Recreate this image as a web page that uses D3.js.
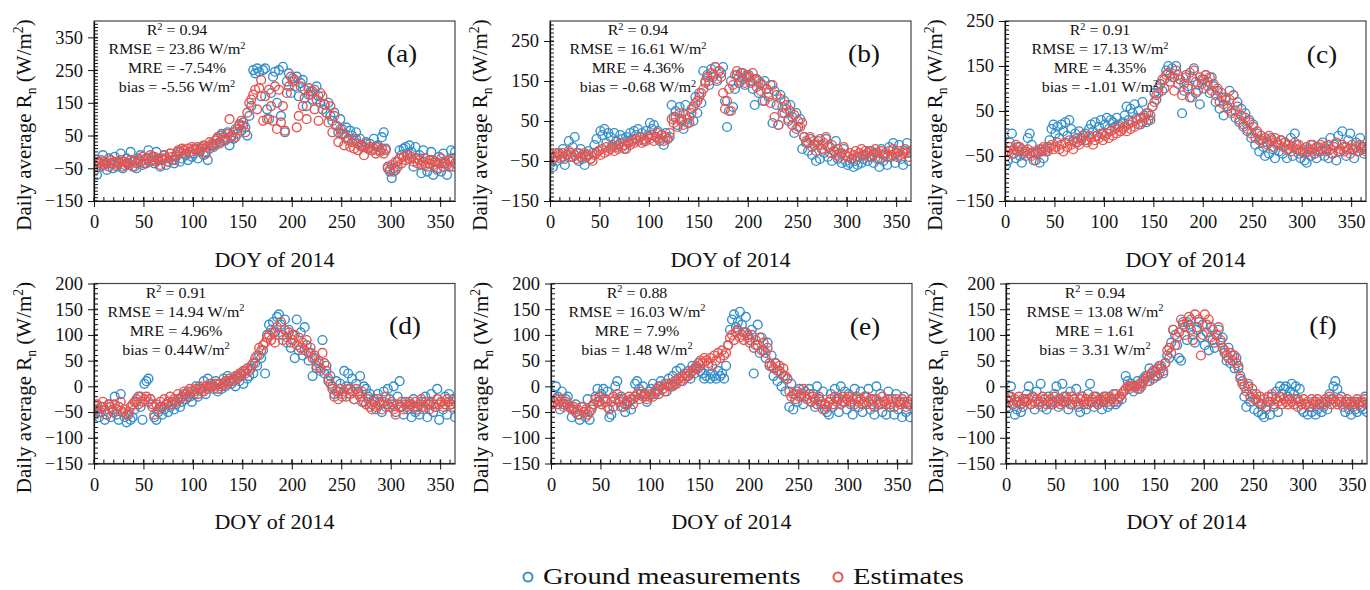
<!DOCTYPE html>
<html>
<head>
<meta charset="utf-8">
<script src="https://cdn.jsdelivr.net/npm/d3@7"></script>
<style>
body { margin: 0; background: #fff; }
svg text { font-family: "Liberation Serif", "Times New Roman", serif; fill: #111; }
</style>
</head>
<body>
<svg id="chart" width="1370" height="590"></svg>
<script>
// day of year, every second day
var doy = d3.range(1, 366, 2);

var groundA = [
-55,-70,-30,-45,-10,-40,-55,-20,-35,-50,
-15,-45,-30,-5,-50,-40,-20,-35,0,-45,
-30,-50,-25,-10,-40,-35,-20,5,-30,-15,
-35,0,-25,-45,-20,-10,-40,-30,-5,-25,
-35,-15,0,-30,-20,5,-10,-25,0,-15,
-5,10,-20,5,15,-10,0,-25,10,20,
15,25,40,30,55,45,35,60,20,50,
40,70,55,80,65,90,75,50,110,140,
250,240,255,245,170,250,255,130,100,180,
230,245,150,250,110,260,60,215,240,180,
225,200,230,170,210,220,190,140,175,185,
160,190,200,170,150,130,145,120,150,110,
95,120,80,60,100,70,55,75,40,65,
50,35,60,25,40,20,15,30,10,25,
5,40,15,20,5,45,60,10,-50,-60,
-80,-50,-55,-30,5,-10,10,15,-5,20,
0,-45,15,-20,-10,-65,5,-40,-60,-25,
0,-70,-30,-55,-15,-60,-5,-35,-70,-45,
5,-20,0];
var estA = [
-30,-45,-35,-25,-40,-30,-35,-45,-25,-35,
-30,-40,-35,-25,-45,-30,-35,-40,-25,-30,
-45,-35,-20,-30,-15,-25,-35,-20,-10,-25,
-15,-30,-20,-40,-25,-10,-20,-30,-5,-15,
-25,-10,5,0,10,5,-5,10,0,15,
10,5,15,0,10,20,-5,15,30,25,
20,35,45,25,50,35,40,55,100,45,
60,45,70,85,95,80,60,120,150,160,
175,190,130,195,220,95,170,100,190,140,
95,200,70,190,90,140,65,180,200,230,
215,220,75,110,200,140,165,100,195,175,
185,130,160,95,180,170,145,120,90,140,
60,110,80,30,70,55,20,45,35,15,
30,10,40,5,20,15,-10,25,10,15,
5,10,-5,15,0,10,-5,5,-45,-55,
-40,-60,-30,-45,-20,-35,-15,-25,-10,-20,
-15,-30,-20,-35,-25,-40,-30,-20,-45,-35,
-25,-40,-30,-50,-35,-20,-45,-30,-40,-25,
-30,-45,-35];

var groundB = [
-55,-65,-40,-50,-30,-45,-20,-60,-35,0,
-40,-15,10,-30,-50,-20,-45,-60,-35,-25,
-45,-30,-10,5,-25,25,15,30,-5,20,
10,-15,20,0,-10,15,5,-20,10,0,
20,5,25,15,30,10,20,0,25,15,
45,30,40,10,25,0,15,-10,20,5,
10,90,60,75,40,85,55,30,90,45,
60,80,50,110,70,120,95,175,150,165,
140,180,160,185,150,175,170,185,100,35,
75,150,85,130,165,145,170,155,140,160,
165,150,130,90,155,120,145,100,150,130,
110,140,45,125,90,40,115,70,100,80,
50,90,60,20,70,35,55,-20,10,-5,
-25,5,-35,-10,-50,0,-45,-20,-30,5,
-40,-15,-50,-25,0,-45,-30,-55,-20,-50,
-60,-55,-45,-65,-50,-60,-40,-55,-45,-35,
-50,-25,-40,-55,-30,-45,-65,-20,-50,-35,
-60,-15,-40,-5,-55,-30,-10,-45,-60,-25,
-5,-50,-30];
var estB = [
-35,-45,-40,-30,-35,-40,-30,-45,-35,-25,
-30,-40,-35,-45,-30,-40,-35,-30,-40,-35,
-45,-50,-35,-30,-25,-35,-20,-30,-15,-25,
-20,-10,-25,-15,-20,-5,-15,-10,-20,-5,
-10,0,-5,5,0,10,-5,5,0,10,
5,15,0,10,20,5,15,0,10,5,
20,55,45,60,35,70,50,40,65,55,
45,70,85,95,100,110,120,130,145,160,
150,170,165,185,155,175,160,120,80,100,
130,75,140,165,175,160,150,170,145,165,
160,145,170,155,135,150,125,140,100,130,
120,95,140,60,115,40,105,85,70,90,
55,75,40,65,30,50,35,45,10,0,
-5,10,-15,0,-25,-10,5,-20,-5,10,
-15,-30,-10,-25,-35,-20,-40,-30,-15,-35,
-40,-30,-45,-35,-25,-40,-30,-20,-35,-25,
-30,-40,-25,-35,-20,-30,-45,-25,-35,-30,
-40,-25,-35,-20,-30,-40,-25,-35,-30,-20,
-30,-40,-25];

var groundC = [
-70,-60,-20,0,-45,-55,-30,-50,-65,-40,
-50,-10,0,-25,-60,-45,-40,-65,-35,-55,
-40,-30,-15,10,20,0,15,-10,20,5,
25,-5,30,10,-15,0,-20,5,-10,-5,
0,-15,10,20,5,25,-5,15,30,0,
20,35,10,30,25,15,35,20,5,25,
40,60,30,55,45,65,35,50,20,70,
40,25,45,30,60,90,75,100,110,95,
120,140,150,130,145,125,150,110,120,45,
95,130,105,80,125,145,90,110,65,120,
100,130,115,90,125,105,70,95,55,80,
40,75,60,95,50,85,35,70,25,55,
15,45,5,30,-10,20,-25,0,-40,-15,
-30,-50,-20,-45,-10,-35,-55,-25,-40,-15,
-45,-20,-55,-35,-10,-50,0,-25,-45,-55,
-40,-60,-65,-35,-50,-25,-45,-55,-30,-40,
-20,-50,-35,-55,-10,-45,-25,-60,-5,-40,
5,-30,-50,-15,0,-35,-55,-20,-40,-10,
-30,-45,-35];
var estC = [
-50,-40,-30,-45,-35,-25,-40,-30,-35,-45,
-40,-35,-45,-50,-40,-60,-45,-35,-40,-30,
-35,-40,-30,-25,-35,-30,-20,-35,-25,-40,
-20,-30,-15,-25,-35,-20,-10,-25,-15,-5,
-15,-20,-5,-10,-25,-15,-5,-10,0,-15,
-5,0,-10,5,-5,10,0,15,5,10,
15,5,20,10,25,15,30,20,35,25,
35,45,30,40,60,70,85,90,110,120,
100,130,135,115,125,95,140,130,120,85,
110,125,100,135,80,140,115,95,125,110,
120,130,105,125,95,110,85,100,70,90,
65,80,55,75,45,85,50,60,30,40,
20,35,10,25,0,15,-10,5,-15,-5,
-20,-10,-25,-5,-15,-30,-10,-20,-25,-15,
-30,-20,-35,-25,-40,-30,-20,-35,-25,-40,
-35,-45,-30,-40,-25,-35,-45,-30,-40,-25,
-35,-30,-40,-25,-35,-45,-30,-20,-40,-35,
-25,-40,-30,-35,-45,-25,-35,-30,-40,-25,
-35,-30,-40];

var groundD = [
-55,-45,-60,-50,-40,-65,-55,-35,-60,-45,
-20,-55,-65,-15,-50,-60,-70,-55,-65,-60,
-45,-30,-20,-40,-65,5,10,15,-25,-35,
-60,-65,-50,-40,-55,-45,-35,-50,-40,-30,
-45,-35,-25,-40,-30,-15,-25,-10,-20,-30,
-15,0,-20,-5,-10,10,-15,15,0,5,
-5,10,-10,5,-5,15,0,20,10,5,
15,0,20,10,25,5,30,15,20,35,
25,45,40,60,55,70,25,100,120,110,
125,105,135,140,120,100,130,85,110,75,
100,55,130,70,105,60,115,80,50,65,
20,55,35,45,30,90,25,40,10,20,
0,-15,10,-10,5,-20,30,0,25,-5,
15,-25,5,-10,20,-30,0,-5,-20,-15,
-35,-25,-45,-15,-30,-50,-10,-40,-5,-25,
-35,0,-50,-20,10,-40,-55,-30,-45,-35,
-60,-25,-50,-40,-55,-30,-45,-20,-60,-35,
-15,-50,-40,-5,-65,-30,-45,-20,-55,-15,
-35,-25,-60];
var estD = [
-45,-35,-50,-40,-30,-45,-55,-35,-40,-50,
-35,-45,-40,-30,-50,-45,-55,-50,-40,-35,
-30,-25,-35,-20,-30,-25,-20,-30,-25,-40,
-55,-35,-45,-30,-40,-25,-35,-30,-20,-35,
-25,-30,-15,-25,-20,-10,-15,-20,-5,-10,
-10,-5,-15,0,-5,-10,0,-5,5,0,
0,5,-5,5,0,5,10,5,15,10,
10,20,15,25,20,30,25,35,30,40,
45,55,60,75,70,80,85,95,100,90,
105,85,115,100,125,90,110,95,105,85,
90,100,80,95,75,85,70,90,65,75,
55,60,40,50,35,65,45,30,15,5,
-5,-20,-10,-25,-5,-15,-10,-20,-5,-15,
-10,-25,-5,-15,-20,-10,-30,-35,-25,-40,
-45,-30,-40,-25,-35,-45,-30,-20,-35,-40,
-30,-45,-55,-35,-40,-30,-45,-35,-40,-30,
-35,-40,-30,-45,-35,-25,-40,-30,-35,-45,
-30,-35,-40,-25,-35,-30,-40,-35,-25,-30,
-35,-40,-30];

var groundE = [
-15,-30,0,-20,-45,-10,-35,-25,-20,-40,
-60,-45,-35,-55,-65,-40,-50,-60,-25,-65,
-45,-35,-20,-5,-30,-15,-5,-25,-10,-60,
-55,-40,0,10,-25,-20,-40,-50,-35,-30,
-45,-25,5,10,-5,-15,0,-20,-30,-10,
-5,5,-15,-10,0,10,-5,5,-10,15,
0,20,5,30,15,35,10,25,20,30,
15,40,25,35,45,30,25,15,20,40,
15,25,20,15,30,20,25,15,40,80,
110,130,140,115,125,145,120,105,135,100,
90,110,25,80,120,65,95,70,55,85,
40,60,20,45,10,30,0,20,-10,15,
-40,5,-45,-15,-30,-5,-20,-35,-10,-25,
-5,-30,-15,-40,0,-25,-35,-10,-45,-50,
-55,-15,-40,-5,-25,-50,0,-30,-10,-45,
-15,-35,-55,-5,-25,-40,-10,-50,-20,-35,
-5,-45,-25,-55,0,-35,-15,-50,-30,-55,
-10,-40,-25,-55,-15,-45,-30,-60,-20,-50,
-35,-60,-25];
var estE = [
-35,-30,-25,-35,-30,-25,-40,-30,-35,-40,
-45,-40,-50,-45,-55,-40,-50,-45,-55,-50,
-40,-35,-25,-30,-20,-35,-25,-30,-40,-45,
-30,-20,-25,-15,-30,-40,-25,-35,-30,-20,
-25,-35,-20,-15,-25,-10,-20,-15,-25,-20,
-15,-20,-10,-5,-15,0,-5,-10,5,0,
5,0,10,5,15,10,20,15,25,20,
25,30,35,40,35,50,45,55,50,45,
55,40,60,50,65,55,70,60,65,80,
95,100,90,105,110,95,100,90,105,95,
85,100,75,90,80,95,70,85,65,75,
45,40,35,45,30,40,25,35,20,15,
-10,-20,-15,-25,-10,-20,-15,-5,-20,-25,
-15,-30,-20,-25,-35,-20,-30,-45,-35,-40,
-30,-25,-35,-20,-30,-25,-35,-20,-30,-25,
-20,-30,-25,-35,-20,-30,-25,-35,-30,-20,
-30,-25,-35,-40,-25,-30,-35,-20,-30,-35,
-25,-35,-30,-40,-25,-30,-35,-25,-30,-40,
-30,-35,-25];

var groundF = [
-40,-20,0,-35,-55,-45,-30,-50,-40,-25,
-15,0,-35,-20,-45,-10,-30,5,-40,-25,
-45,-20,-35,-30,-15,0,-40,-25,5,-30,
-20,-45,-10,-35,-25,-5,-40,-50,-20,-35,
-45,-15,5,-30,-40,-20,-35,-25,-45,-30,
-20,-40,-35,-25,-15,-35,-30,-20,-25,-10,
20,10,-5,5,-10,0,10,-5,5,15,
20,10,35,25,15,30,20,40,35,25,
45,60,55,85,110,100,80,55,50,125,
115,90,120,130,100,85,110,125,95,120,
80,105,70,115,90,75,100,110,85,95,
65,50,75,45,60,35,55,40,20,10,
-20,-40,0,-30,-15,-45,-25,-50,-35,-55,
-60,-45,-30,-55,-20,-40,-10,-50,0,-15,
-5,0,-20,-10,5,-15,0,-25,-5,-45,
-50,-35,-55,-40,-50,-30,-55,-45,-35,-50,
-40,-30,-45,-15,-25,0,10,-5,-30,-20,
-40,-50,-30,-45,-55,-35,-45,-50,-30,-40,
-45,-20,-50];
var estF = [
-25,-30,-20,-35,-25,-30,-20,-35,-25,-30,
-30,-25,-35,-20,-30,-25,-35,-30,-20,-25,
-35,-30,-25,-35,-20,-30,-25,-35,-30,-20,
-30,-25,-35,-20,-25,-30,-35,-25,-20,-30,
-25,-35,-30,-25,-20,-30,-35,-25,-30,-20,
-25,-30,-20,-25,-30,-15,-25,-20,-15,-10,
-5,0,0,0,0,0,-5,5,0,10,
15,20,10,25,30,20,35,25,40,30,
45,70,75,65,110,80,95,105,130,120,
100,125,135,110,90,140,115,130,60,100,
140,120,130,95,110,85,100,115,90,75,
70,60,55,65,50,60,45,35,15,5,
0,-10,5,-20,-5,-25,-15,-30,-20,-35,
-25,-40,-20,-30,-15,-35,-25,-30,-20,-35,
-25,-30,-35,-25,-30,-35,-25,-40,-30,-35,
-25,-35,-30,-40,-25,-35,-30,-25,-35,-30,
-35,-25,-30,-20,-35,-25,-30,-35,-25,-30,
-35,-30,-25,-35,-30,-40,-30,-25,-35,-30,
-30,-25,-35];

var panelNames = ["(a)", "(b)", "(c)", "(d)", "(e)", "(f)"];
var r2Values = ["0.94", "0.94", "0.91", "0.91", "0.88", "0.94"];
var rmseValues = ["23.86", "16.61", "17.13", "14.94", "16.03", "13.08"];
var mreValues = ["-7.54%", "4.36%", "4.35%", "4.96%", "7.9%", "1.61"];
var biasValues = ["-5.56 ", "-0.68 ", "-1.01 ", "0.44", "1.48 ", "3.31 "];
var yMax = [400, 300, 250, 200, 200, 200];
var yTickLabels = [
  [-150, -50, 50, 150, 250, 350],
  [-150, -50, 50, 150, 250],
  [-150, -50, 50, 150, 250],
  [-150, -100, -50, 0, 50, 100, 150, 200],
  [-150, -100, -50, 0, 50, 100, 150, 200],
  [-150, -100, -50, 0, 50, 100, 150, 200]
];
var xTickLabels = [0, 50, 100, 150, 200, 250, 300, 350];
var groundSeries = [groundA, groundB, groundC, groundD, groundE, groundF];
var estSeries = [estA, estB, estC, estD, estE, estF];
var legendLabels = ["Ground measurements", "Estimates"];

// layout
var plotW = 361, plotH = 180;
var layout = [
  {left: 94, top: 21, statsDx: 83, labelDx: 308, labelDy: 41},
  {left: 550, top: 21, statsDx: 88, labelDx: 314, labelDy: 41},
  {left: 1005, top: 21, statsDx: 95, labelDx: 317, labelDy: 42},
  {left: 94, top: 283.5, statsDx: 82, labelDx: 311, labelDy: 50},
  {left: 551, top: 283.5, statsDx: 86, labelDx: 314, labelDy: 51},
  {left: 1006, top: 283.5, statsDx: 89, labelDx: 317, labelDy: 50}
];
var blue = "#3390ca", red = "#e8544f";
var serif = "'Liberation Serif', 'Times New Roman', serif";

var svg = d3.select("#chart");

// text with sub/superscripts
function richText(sel, parts, fs) {
  var shift = 0;
  parts.forEach(function (p) {
    var ts = sel.append("tspan").text(p.t);
    var target = p.sup ? -fs * 0.38 : (p.sub ? fs * 0.25 : 0);
    if (target != shift) ts.attr("dy", target - shift);
    if (p.sup || p.sub) ts.attr("font-size", fs * 0.65);
    shift = target;
  });
}

var x = d3.scaleLinear().domain([0, 365]);

layout.forEach(function (L, i) {
  var g = svg.append("g").attr("transform", "translate(" + L.left + "," + L.top + ")");
  var xs = x.copy().range([0, plotW]);
  var ys = d3.scaleLinear().domain([-150, yMax[i]]).range([plotH, 0]);

  g.append("clipPath").attr("id", "clip" + i)
    .append("rect").attr("width", plotW).attr("height", plotH);

  var pts = g.append("g").attr("clip-path", "url(#clip" + i + ")");
  [[groundSeries[i], blue], [estSeries[i], red]].forEach(function (s) {
    pts.append("g").selectAll("circle")
      .data(s[0])
      .enter()
      .append("circle")
      .attr("cx", function (d, k) { return xs(doy[k]); })
      .attr("cy", function (d) { return ys(d); })
      .attr("r", 4.4)
      .attr("fill", "none")
      .attr("stroke", s[1])
      .attr("stroke-width", 1.4);
  });

  // frame
  g.append("rect").attr("width", plotW).attr("height", plotH)
    .attr("fill", "none").attr("stroke", "#444").attr("stroke-width", 1.2);

  // minor ticks (inside)
  g.append("g").selectAll("line")
    .data(d3.range(-150, yMax[i], 10))
    .enter().append("line")
    .attr("x1", 0).attr("x2", 4)
    .attr("y1", function (d) { return ys(d); })
    .attr("y2", function (d) { return ys(d); })
    .attr("stroke", "#111");
  g.append("g").selectAll("line")
    .data(d3.range(0, 366, 10))
    .enter().append("line")
    .attr("y1", plotH).attr("y2", plotH - 4)
    .attr("x1", function (d) { return xs(d); })
    .attr("x2", function (d) { return xs(d); })
    .attr("stroke", "#111");

  // major axes
  var ya = g.append("g")
    .call(d3.axisLeft(ys).tickValues(yTickLabels[i]).tickSizeInner(6).tickSizeOuter(0).tickPadding(5));
  var xa = g.append("g").attr("transform", "translate(0," + plotH + ")")
    .call(d3.axisBottom(xs).tickValues(xTickLabels).tickSizeInner(6).tickSizeOuter(0).tickPadding(8));
  [ya, xa].forEach(function (a) {
    a.attr("font-family", serif).attr("font-size", 18.5);
    a.select(".domain").attr("stroke", "#111").attr("stroke-width", 1.2);
    a.selectAll(".tick line").attr("stroke", "#111");
    a.selectAll(".tick text").attr("fill", "#111");
  });
  ya.selectAll(".tick line").attr("x2", -6).attr("x1", 4);
  xa.selectAll(".tick line").attr("y2", 6).attr("y1", -4);

  // y title
  var yt = g.append("text")
    .attr("transform", "translate(-63," + (plotH / 2 + 14) + ") rotate(-90)")
    .attr("text-anchor", "middle")
    .attr("font-size", 21);
  richText(yt, [{t: "Daily average R"}, {t: "n", sub: true}, {t: " (W/m"}, {t: "2", sup: true}, {t: ")"}], 21);

  // x title
  g.append("g").attr("transform", "translate(" + (plotW / 2) + "," + (plotH + 65.5) + ") scale(1.1,1)")
    .append("text").attr("text-anchor", "middle").attr("font-size", 20)
    .text("DOY of 2014");

  // stats block
  var lines = [
    [{t: "R"}, {t: "2", sup: true}, {t: " = " + r2Values[i]}],
    [{t: "RMSE = " + rmseValues[i] + " W/m"}, {t: "2", sup: true}],
    [{t: "MRE = " + mreValues[i]}],
    [{t: "bias = " + biasValues[i] + "W/m"}, {t: "2", sup: true}]
  ];
  lines.forEach(function (parts, j) {
    var t = g.append("g")
      .attr("transform", "translate(" + L.statsDx + "," + (14 + j * 19) + ") scale(1.1,1)")
      .append("text").attr("text-anchor", "middle").attr("font-size", 14.5);
    richText(t, parts, 14.5);
  });

  // panel letter
  g.append("g").attr("transform", "translate(" + L.labelDx + "," + L.labelDy + ") scale(1.1,1)")
    .append("text").attr("text-anchor", "middle").attr("font-size", 25)
    .text(panelNames[i]);
});

// legend
var legend = svg.append("g");
[[528, blue], [838, red]].forEach(function (p, k) {
  legend.append("circle").attr("cx", p[0]).attr("cy", 577).attr("r", 4.5)
    .attr("fill", "none").attr("stroke", p[1]).attr("stroke-width", 2);
  legend.append("g").attr("transform", "translate(" + (p[0] + 15) + ",584) scale(1.19,1)")
    .append("text").attr("font-size", 24).text(legendLabels[k]);
});
</script>
</body>
</html>
